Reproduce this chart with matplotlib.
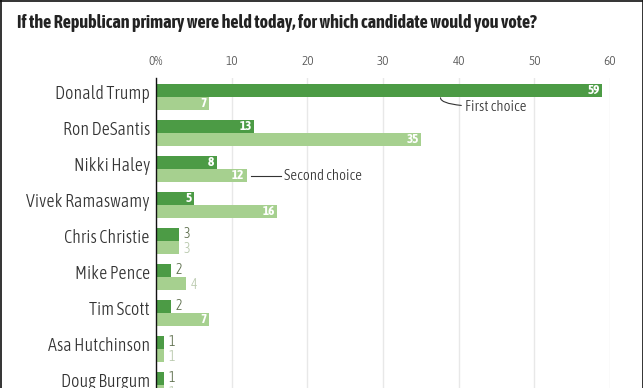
import matplotlib
matplotlib.use("Agg")
import matplotlib.pyplot as plt
from matplotlib.lines import Line2D

plt.rcParams['font.family'] = ['Asap Condensed', 'DejaVu Sans']

candidates = ["Donald Trump", "Ron DeSantis", "Nikki Haley", "Vivek Ramaswamy",
              "Chris Christie", "Mike Pence", "Tim Scott", "Asa Hutchinson", "Doug Burgum"]
first_choice = [59, 13, 8, 5, 3, 2, 2, 1, 1]
second_choice = [7, 35, 12, 16, 3, 4, 7, 1, 1]
xticks = [0, 10, 20, 30, 40, 50, 60]
xtick_labels = ["0%", "10", "20", "30", "40", "50", "60"]
title = "If the Republican primary were held today, for which candidate would you vote?"

DARK = "#4c9b45"
LIGHT = "#a6d08f"
W, H = 643, 388
fig = plt.figure(figsize=(W / 100, H / 100), dpi=100)
fig.patch.set_facecolor("white")

x0, x1 = 156, 610
ytop, ybot = 78, 388
ax = fig.add_axes([x0 / W, 1 - ybot / H, (x1 - x0) / W, (ybot - ytop) / H])
ax.set_xlim(0, 60)
ax.set_ylim(8.08, -0.53)

bh = 0.36
off = 0.19
for i, (a, b) in enumerate(zip(first_choice, second_choice)):
    ax.barh(i - off, a, height=bh, color=DARK, zorder=3)
    ax.barh(i + off, b, height=bh, color=LIGHT, zorder=3)
    if a >= 5:
        ax.text(a - 0.3, i - off, str(a), ha="right", va="center", color="white",
                fontsize=9.5, fontweight="bold", zorder=4)
    else:
        ax.text(a + 0.6, i - off - 0.02, str(a), ha="left", va="center", color="#5d6e4c",
                fontsize=10, fontweight=300, zorder=4)
    if b >= 5:
        ax.text(b - 0.3, i + off, str(b), ha="right", va="center", color="white",
                fontsize=9.5, fontweight="bold", zorder=4)
    else:
        ax.text(b + 0.6, i + off + 0.03, str(b), ha="left", va="center", color="#b9c9ad",
                fontsize=10, fontweight=300, zorder=4)
    ax.text(-0.8, i - 0.09, candidates[i], ha="right", va="center", color="#333333",
            fontsize=13, fontweight=300)

ax.set_xticks(xticks)
ax.set_xticklabels(xtick_labels, fontweight=300)
ax.xaxis.tick_top()
ax.tick_params(axis="x", length=0, pad=7, labelsize=9.5, labelcolor="#555555")
ax.set_yticks([])
ax.grid(axis="x", color="#e8e8e8", linewidth=1, zorder=0)
for s in ["top", "right", "bottom"]:
    ax.spines[s].set_visible(False)
ax.spines["left"].set_color("#111111")
ax.spines["left"].set_linewidth(1)
ax.spines["left"].set_zorder(5)

# annotations
ax.annotate("First choice", xy=(37.6, 0.02), xytext=(40.9, 0.27),
            ha="left", va="center", fontsize=10.8, fontweight=300, color="#333333",
            arrowprops=dict(arrowstyle="-", color="#333333", lw=0.8,
                            connectionstyle="angle3,angleA=0,angleB=90", shrinkA=1, shrinkB=0))
ax.plot([12.5, 16.5], [2 + off, 2 + off], color="#333333", lw=0.8, zorder=4)
ax.text(16.9, 2 + off, "Second choice", ha="left", va="center", fontsize=10.8,
        fontweight=300, color="#333333")

fig.text(17 / W, 1 - 23 / H, title,
         ha="left", va="center", fontsize=13, fontweight="bold", color="#222222")

# border
for coords in [([0.5 / W, 0.5 / W], [0, 1]), ([0, 1], [1 - 0.5 / H, 1 - 0.5 / H]),
               ([1 - 0.5 / W, 1 - 0.5 / W], [0, 1])]:
    fig.add_artist(Line2D(coords[0], coords[1], color="#111111", lw=1.2))

fig.savefig("out.png", dpi=100)
